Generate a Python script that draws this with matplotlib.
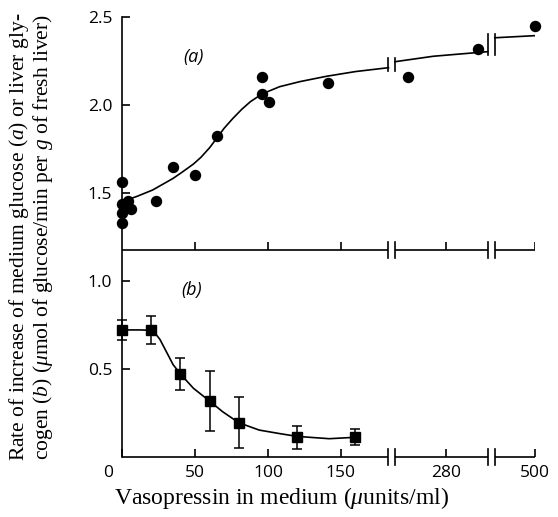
import matplotlib
matplotlib.use('Agg')
import matplotlib.pyplot as plt
import matplotlib.transforms as mtransforms
import numpy as np

plt.rcParams['mathtext.fontset'] = 'custom'
plt.rcParams['mathtext.rm'] = 'Liberation Serif'
plt.rcParams['mathtext.it'] = 'Liberation Serif:italic'

# (a) medium glucose, individual points
glucose_x = [0, 0, 0, 0, 2, 4, 6, 23, 35, 50, 65, 96, 96, 101, 141, 220, 330, 500]
glucose_y = [1.564, 1.438, 1.388, 1.331, 1.415, 1.453, 1.407, 1.455, 1.646, 1.602,
             1.822, 2.161, 2.063, 2.015, 2.127, 2.157, 2.32, 2.45]

# (a) fitted curve, one list per axis segment
fit_a_x1 = [3, 10, 21, 28, 35, 42, 49, 54, 60, 65, 70, 76, 82, 88, 96, 108, 122, 140, 160, 182.6]
fit_a_y1 = [1.46, 1.48, 1.517, 1.55, 1.583, 1.623, 1.665, 1.702, 1.757, 1.812, 1.868, 1.924,
            1.975, 2.019, 2.063, 2.104, 2.133, 2.163, 2.19, 2.212]
fit_a_x2 = [200, 260, 345]
fit_a_y2 = [2.246, 2.277, 2.303]
fit_a_x3 = [400, 500]
fit_a_y3 = [2.382, 2.394]

# (b) liver glycogen, mean +/- error
glycogen_x = [0, 20, 40, 60, 80, 120, 160]
glycogen_y = [0.72, 0.722, 0.472, 0.318, 0.195, 0.112, 0.115]
glycogen_err = [0.057, 0.08, 0.09, 0.168, 0.145, 0.066, 0.046]

fit_b_x = [0, 12, 16, 20, 23, 26, 30.6, 35, 40, 49, 60, 69, 80, 94, 108, 120, 142, 160]
fit_b_y = [0.722, 0.722, 0.721, 0.716, 0.70, 0.668, 0.595, 0.525, 0.472, 0.39, 0.318,
           0.257, 0.195, 0.153, 0.133, 0.117, 0.104, 0.112]

x_ticks = [0, 50, 100, 150, 280, 500]
y_ticks = [0.5, 1.0, 1.5, 2.0, 2.5]


def xmap(v):
    """broken x axis: 0-185 linear, then a compressed 200-345 piece, then 400-500"""
    v = np.asarray(v, float)
    return np.where(v <= 185, v,
                    np.where(v < 380, 187.1 + (v - 200) * 0.4375, 255.5 + (v - 400) * 0.275))


SEGMENTS = [(0, 182.6), (187.1, 250.5), (255.5, 283)]
LW = 1.2
MID = 1.175
SANS = 'Open Sans'

fig = plt.figure(figsize=(5.58, 5.17), dpi=100)
ax = fig.add_axes([122 / 558, 60 / 517, 413 / 558, 440 / 517])
ax.set_xlim(0, 283)
ax.set_ylim(0, 2.5)
for s in ['top', 'right', 'bottom']:
    ax.spines[s].set_visible(False)
ax.spines['left'].set_linewidth(LW)


def broken_line(y0, h):
    for a, b in SEGMENTS:
        ax.plot([a, b], [y0, y0], color='black', lw=LW, clip_on=False, solid_capstyle='butt')
    for xb in [SEGMENTS[0][1], SEGMENTS[1][0], SEGMENTS[1][1], SEGMENTS[2][0]]:
        ax.plot([xb, xb], [y0 - h, y0 + h], color='black', lw=LW, clip_on=False)


broken_line(0, 0.045)
broken_line(MID, 0.045)
ax.vlines(xmap(x_ticks[1:]), MID, MID + 0.045, color='black', lw=LW)

# fitted curves
ax.plot(xmap(fit_a_x1), fit_a_y1, color='black', lw=1.2)
ax.plot(xmap(fit_a_x2), fit_a_y2, color='black', lw=1.2)
ax.plot(xmap(fit_a_x3), fit_a_y3, color='black', lw=1.2)
for (xa, ya), (xb, yb) in [((fit_a_x1[-1], fit_a_y1[-1]), (fit_a_x2[0], fit_a_y2[0])),
                           ((fit_a_x2[-1], fit_a_y2[-1]), (fit_a_x3[0], fit_a_y3[0]))]:
    lo, hi = min(ya, yb) - 0.02, max(ya, yb) + 0.02
    ax.plot([xmap(xa)] * 2, [lo, hi], color='black', lw=LW)
    ax.plot([xmap(xb)] * 2, [lo, hi], color='black', lw=LW)

ax.plot(xmap(fit_b_x), fit_b_y, color='black', lw=1.2)

ax.plot(xmap(glucose_x), glucose_y, 'o', color='black', ms=7.2, clip_on=False)
ax.errorbar(xmap(glycogen_x), glycogen_y, yerr=glycogen_err, fmt='s', color='black',
            ms=7, capsize=3.8, elinewidth=1.1, capthick=1.1, clip_on=False)

ax.text(49, 2.27, '(a)', fontsize=13, fontstyle='italic', family=SANS, ha='center', va='center')
ax.text(48, 0.95, '(b)', fontsize=13, fontstyle='italic', family=SANS, ha='center', va='center')

ax.set_xticks(xmap(x_ticks))
ax.set_xticklabels([str(t) for t in x_ticks])
ax.set_yticks(y_ticks)
ax.set_yticklabels(['%.1f' % t for t in y_ticks])
ax.tick_params(axis='both', direction='in', length=5.8, width=LW, labelsize=12.5)
ax.tick_params(axis='x', pad=6)
ax.tick_params(axis='y', pad=7)
for lbl in ax.get_xticklabels() + ax.get_yticklabels():
    lbl.set_family(SANS)
zero = ax.get_xticklabels()[0]
zero.set_transform(zero.get_transform() + mtransforms.ScaledTranslation(-0.14, 0, fig.dpi_scale_trans))

fig.text(282 / 558, 19 / 517, r'Vasopressin in medium ($\mu$units/ml)', family='Liberation Serif',
         fontsize=17, ha='center', va='center')
fig.text(31 / 558, 280 / 517,
         'Rate of increase of medium glucose ($a$) or liver gly-\n'
         'cogen ($b$) ($\\mu$mol of glucose/min per $g$ of fresh liver)',
         family='Liberation Serif', fontsize=15.5, rotation=90, ha='center', va='center',
         linespacing=1.0)

fig.savefig('out.png', dpi=100)
